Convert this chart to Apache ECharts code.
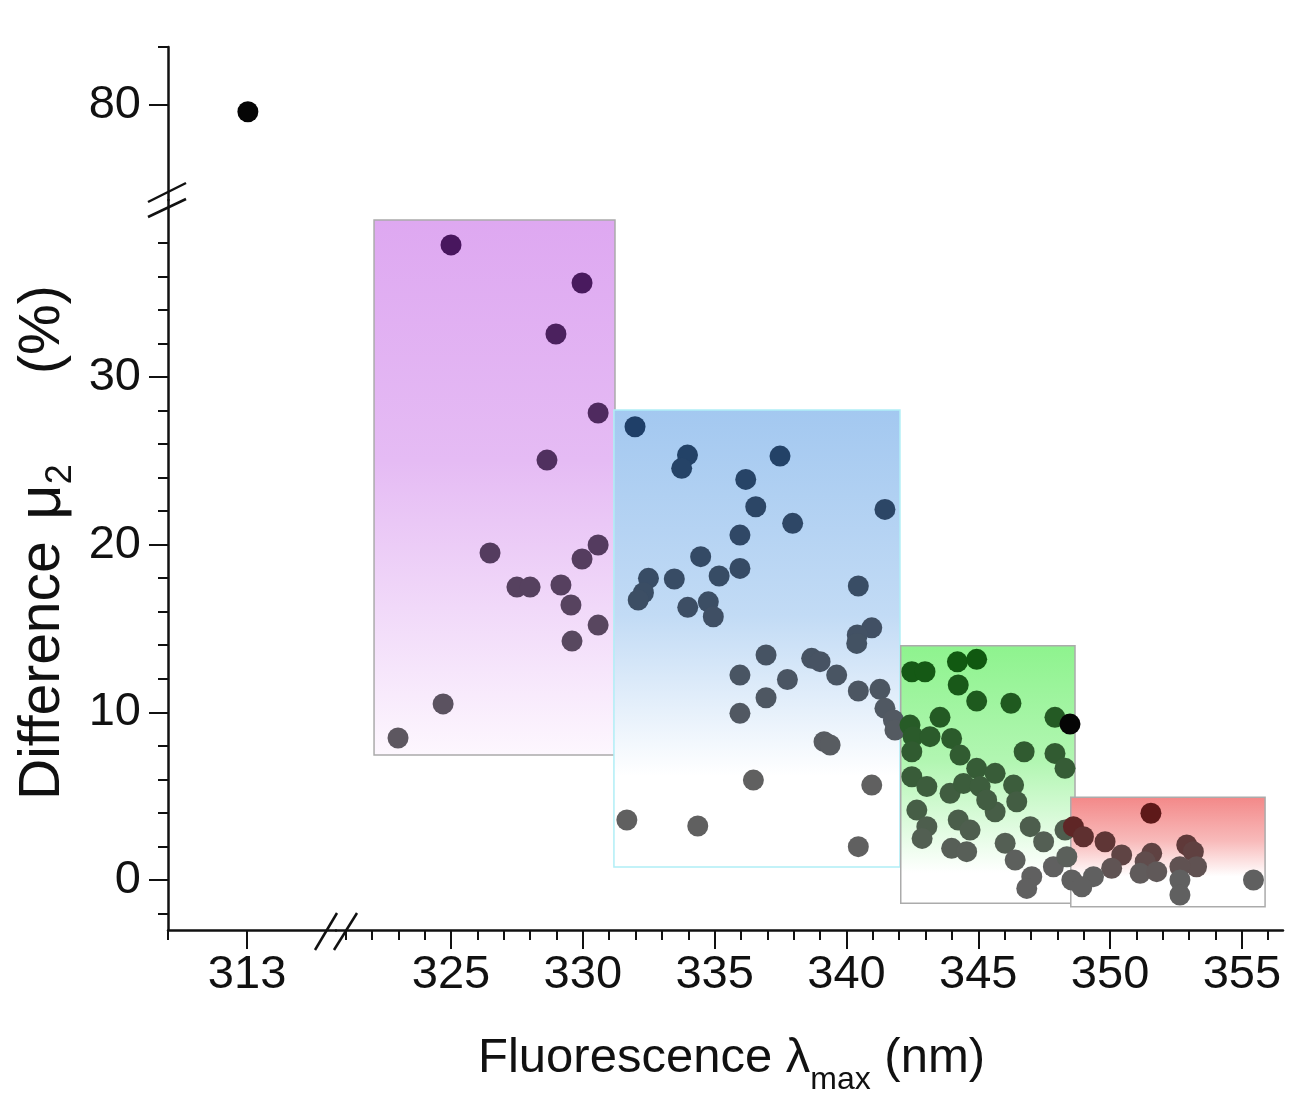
<!DOCTYPE html>
<html><head><meta charset="utf-8">
<script src="https://cdn.jsdelivr.net/npm/echarts@6/dist/echarts.min.js"></script>
<style>html,body{margin:0;padding:0;background:#fff}#c{width:1291px;height:1099px}</style>
</head><body><div id="c"></div>
<script>
// ---------------- data ----------------
const xTicksMain = [325, 330, 335, 340, 345, 350, 355];
const xTicksMinor = [321,322,323,324,326,327,328,329,331,332,333,334,336,337,338,339,341,342,343,344,346,347,348,349,351,352,353,354,356];
const xTicksLeft = [313];
const yTicksMain = [0, 10, 20, 30];
const yTicksMinor = [-2,2,4,6,8,12,14,16,18,22,24,26,28,32,34,36,38];
const yTicksUpper = [80];

// shaded wavelength boxes (nm, %)
const boxX0 = [322.08, 331.18, 342.06, 348.51];
const boxX1 = [331.22, 342.03, 348.67, 355.88];
const boxY0 = [7.45, 0.78, -1.39, -1.59];
const boxY1 = [39.36, 28.03, 13.97, 4.93];

// [lambda_max (nm), difference mu2 (%)]
const pointsA = [[325.0,37.87],[329.97,35.6],[328.98,32.56],[330.58,27.85],[328.64,25.04],[326.48,19.5],[330.58,19.98],[329.97,19.14],[327.5,17.47],[328.0,17.47],[329.17,17.59],[329.55,16.4],[330.58,15.2],[329.59,14.25],[324.7,10.5],[322.99,8.47]];
const pointsB = [[331.98,27.03],[333.97,25.34],[333.75,24.55],[337.48,25.28],[336.18,23.89],[336.56,22.26],[337.96,21.27],[341.46,22.1],[335.96,20.57],[334.47,19.28],[335.96,18.58],[335.17,18.13],[332.49,17.99],[333.47,17.95],[332.3,17.13],[332.1,16.7],[333.98,16.26],[334.76,16.59],[334.95,15.7],[340.45,17.53],[340.96,15.04],[340.41,14.61],[340.39,14.11],[336.95,13.42],[338.68,13.22],[339.0,13.02],[339.63,12.22],[340.45,11.27],[341.27,11.37],[335.96,12.22],[337.76,11.96],[336.95,10.87],[335.96,9.94],[341.46,10.24],[341.78,9.54],[341.84,8.94],[339.15,8.25],[339.38,8.05],[336.47,5.96],[340.96,5.66],[331.67,3.58],[334.36,3.22],[340.45,1.99]];
const pointsC = [[342.48,12.42],[342.98,12.42],[344.21,13.01],[344.94,13.16],[344.24,11.63],[344.94,10.67],[346.24,10.54],[347.91,9.7],[343.55,9.7],[342.41,9.24],[342.53,8.55],[343.17,8.55],[343.99,8.44],[342.48,7.65],[344.31,7.45],[346.74,7.65],[347.91,7.55],[348.29,6.66],[344.94,6.66],[345.64,6.36],[342.48,6.16],[343.05,5.57],[343.93,5.17],[344.44,5.76],[345.07,5.57],[346.34,5.66],[346.46,4.67],[345.64,4.07],[345.32,4.77],[342.67,4.17],[343.05,3.18],[342.87,2.48],[344.24,3.58],[344.69,2.98],[343.99,1.89],[344.56,1.69],[346.02,2.19],[346.4,1.19],[346.97,3.18],[347.48,2.28],[347.03,0.2],[346.84,-0.5],[347.85,0.79],[348.36,1.39],[348.55,0.0],[348.29,2.98]];
const pointsD = [[351.55,3.98],[348.61,3.18],[348.99,2.58],[349.81,2.28],[350.44,1.49],[350.06,0.7],[349.37,0.2],[348.93,-0.4],[351.58,1.59],[351.33,1.09],[351.14,0.4],[351.77,0.5],[352.91,2.09],[353.16,1.69],[353.28,0.79],[352.65,0.79],[352.65,0.0],[352.65,-0.89],[355.44,0.0]];
const blackPointsLower = [[348.48, 9.3]];
const blackPointsUpper = [[313.03, 79.6]];

// ---------------- styles ----------------
const FONT = '"Liberation Sans", Arial, Helvetica, sans-serif';
const INK = '#111';
const GRAY = [96, 96, 96];
const boxStyle = [
  {stops: [[0,'#dea8f1'],[0.45,'#e5bbf4'],[1,'#fdf7fe']], stroke:'#ababab', hue:[71,19,94], white:1.05},
  {stops: [[0,'#a3c8f0'],[0.45,'#c2dbf5'],[0.8,'#ffffff'],[1,'#ffffff']], stroke:'#b0eef6', hue:[28,62,104], white:0.8},
  {stops: [[0,'#8ef38e'],[0.45,'#b2f6b2'],[0.88,'#ffffff'],[1,'#ffffff']], stroke:'#ababab', hue:[12,88,12], white:0.85},
  {stops: [[0,'#f38888'],[0.4,'#f8baba'],[0.72,'#ffffff'],[1,'#ffffff']], stroke:'#ababab', hue:[94,10,10], white:0.72}
];

function pointColor(v) {
  let idx = -1;
  for (let i = 0; i < boxX0.length; i++) {
    if (v[0] >= boxX0[i] && v[0] <= boxX1[i] && v[1] >= boxY0[i] && v[1] <= boxY1[i]) idx = i;
  }
  if (idx < 0) return 'rgb(' + GRAY.join(',') + ')';
  const s = boxStyle[idx];
  const tTop = (boxY1[idx] - v[1]) / (boxY1[idx] - boxY0[idx]);
  let f = Math.max(0, Math.min(1, 1 - tTop / s.white));
  f = Math.pow(f, 0.85);
  const c = GRAY.map((g, k) => Math.round(g + (s.hue[k] - g) * f));
  return 'rgb(' + c.join(',') + ')';
}

const allPoints = pointsA.concat(pointsB, pointsC, pointsD);
const boxData = boxX0.map((x, i) => [x, boxX1[i], boxY0[i], boxY1[i], i]);

const labelStyle = {fontSize: 47, color: INK, fontFamily: FONT};
const lineStyle = {color: INK, width: 2.5};
const tickStyle = {color: INK, width: 2};

function mainAxis(extra) {
  return Object.assign({
    type: 'value', splitLine: {show: false},
    axisLine: {show: true, onZero: false, lineStyle: lineStyle}
  }, extra);
}
function minorAxis(extra, values) {
  return Object.assign({
    type: 'value', splitLine: {show: false},
    axisLine: {show: false, onZero: false},
    axisLabel: {show: false},
    axisTick: {show: true, customValues: values, length: 10, lineStyle: tickStyle}
  }, extra);
}

// ---------------- text measuring for titles ----------------
const mctx = document.createElement('canvas').getContext('2d');
function tw(t, size) { mctx.font = size + 'px "Liberation Sans"'; return mctx.measureText(t).width; }
function txt(t, size, x, y, rot) {
  return {type: 'text', x: x, y: y, rotation: rot || 0, silent: true,
    style: {text: t, font: size + 'px "Liberation Sans"', fill: INK,
      align: 'left', verticalAlign: 'middle', textAlign: 'left', textVerticalAlign: 'middle'}};
}

const XT = 49, XS = 32;
const xt0 = 478, xtY = 1058;
const w1 = tw('Fluorescence \u03bb', XT), w2 = tw('max', XS);
const xTitle = [
  txt('Fluorescence \u03bb', XT, xt0, xtY),
  txt('max', XS, xt0 + w1, xtY + 22),
  txt(' (nm)', XT, xt0 + w1 + w2, xtY)
];

const YT = 57, YS = 36, YM = 62;
const ytX = 43, R = Math.PI / 2;
const muStart = 520;
const yTitle = [
  txt('Difference', YT, ytX, 800, R),
  txt('\u03bc', YM, ytX, muStart, R),
  txt('2', YS, ytX + 18, muStart - tw('\u03bc', YM), R),
  txt('(%)', YT, ytX, 374, R)
];

const breaks = [
  [[148,202],[186,183]], [[148,217],[186,199]],
  [[315,950],[337,913]], [[334,950],[357,913]]
].map(p => ({type: 'line', silent: true, z: 100,
  shape: {x1: p[0][0], y1: p[0][1], x2: p[1][0], y2: p[1][1]},
  style: {stroke: INK, lineWidth: 2.5}}));

const option = {
  animation: false,
  backgroundColor: '#ffffff',
  grid: [
    {left: 168, top: 200, width: 168, height: 730},
    {left: 336, top: 200, width: 947, height: 730},
    {left: 168, top: 47, width: 168, height: 153}
  ],
  xAxis: [
    mainAxis({gridIndex: 0, position: 'bottom', min: 310, max: 316.373,
      axisTick: {show: true, customValues: xTicksLeft, length: 19, lineStyle: tickStyle},
      axisLabel: Object.assign({customValues: xTicksLeft, margin: 22}, labelStyle)}),
    minorAxis({gridIndex: 0, position: 'bottom', min: 310, max: 316.373}, [310]),
    mainAxis({gridIndex: 1, position: 'bottom', min: 320.637, max: 356.56,
      axisTick: {show: true, customValues: xTicksMain, length: 19, lineStyle: tickStyle},
      axisLabel: Object.assign({customValues: xTicksMain, margin: 22}, labelStyle)}),
    minorAxis({gridIndex: 1, position: 'bottom', min: 320.637, max: 356.56}, xTicksMinor),
    {type: 'value', gridIndex: 2, show: false, min: 310, max: 316.373}
  ],
  yAxis: [
    mainAxis({gridIndex: 0, position: 'left', min: -2.98, max: 40.55,
      axisTick: {show: true, customValues: yTicksMain, length: 19, lineStyle: tickStyle},
      axisLabel: Object.assign({customValues: yTicksMain, margin: 27}, labelStyle)}),
    minorAxis({gridIndex: 0, position: 'left', min: -2.98, max: 40.55}, yTicksMinor),
    {type: 'value', gridIndex: 1, show: false, min: -2.98, max: 40.55},
    mainAxis({gridIndex: 2, position: 'left', min: 74.34, max: 83.46,
      axisTick: {show: true, customValues: yTicksUpper, length: 19, lineStyle: tickStyle},
      axisLabel: Object.assign({customValues: yTicksUpper, margin: 27}, labelStyle)}),
    minorAxis({gridIndex: 2, position: 'left', min: 74.34, max: 83.46}, [83.46])
  ],
  series: [
    {
      type: 'custom', xAxisIndex: 2, yAxisIndex: 2, z: 1, silent: true,
      data: boxData,
      encode: {x: [0, 1], y: [2, 3]},
      renderItem: function (params, api) {
        const i = api.value(4);
        const p0 = api.coord([api.value(0), api.value(3)]);
        const p1 = api.coord([api.value(1), api.value(2)]);
        const s = boxStyle[i];
        return {
          type: 'rect',
          shape: {x: p0[0], y: p0[1], width: p1[0] - p0[0], height: p1[1] - p0[1]},
          style: {
            fill: new echarts.graphic.LinearGradient(0, 0, 0, 1,
              s.stops.map(st => ({offset: st[0], color: st[1]}))),
            stroke: s.stroke, lineWidth: 1.5
          }
        };
      }
    },
    {
      type: 'scatter', xAxisIndex: 2, yAxisIndex: 2, z: 3, silent: true,
      symbol: 'circle', symbolSize: 21,
      data: allPoints,
      itemStyle: {color: function (p) { return pointColor(p.value); }, opacity: 1}
    },
    {
      type: 'scatter', xAxisIndex: 2, yAxisIndex: 2, z: 4, silent: true,
      symbol: 'circle', symbolSize: 21, data: blackPointsLower,
      itemStyle: {color: '#050505', opacity: 1}
    },
    {
      type: 'scatter', xAxisIndex: 4, yAxisIndex: 3, z: 4, silent: true,
      symbol: 'circle', symbolSize: 21, data: blackPointsUpper,
      itemStyle: {color: '#050505', opacity: 1}
    }
  ],
  graphic: breaks.concat(xTitle, yTitle)
};

const chart = echarts.init(document.getElementById('c'), null, {renderer: 'canvas'});
chart.setOption(option);
</script></body></html>
